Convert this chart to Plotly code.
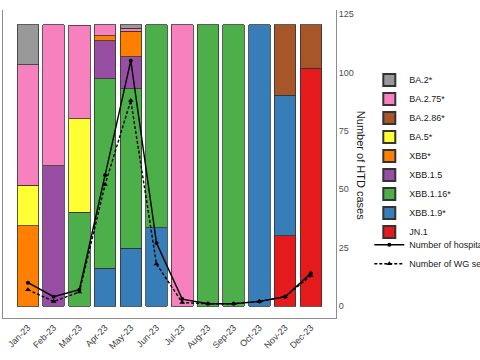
import plotly.graph_objects as go

months = ["Jan-23", "Feb-23", "Mar-23", "Apr-23", "May-23", "Jun-23",
          "Jul-23", "Aug-23", "Sep-23", "Oct-23", "Nov-23", "Dec-23"]

# Lineage shares per month (legend order = top of stack first)
lineages = ["BA.2*", "BA.2.75*", "BA.2.86*", "BA.5*", "XBB*",
            "XBB.1.5", "XBB.1.16*", "XBB.1.9*", "JN.1"]
ba2 =     [0.143, 0,    0,     0,     0.011, 0,     0, 0, 0, 0, 0,    0]
ba275 =   [0.429, 0.5,  0.333, 0.038, 0.011, 0,     1, 0, 0, 0, 0,    0]
ba286 =   [0,     0,    0,     0,     0,     0,     0, 0, 0, 0, 0.25, 0.154]
ba5 =     [0.143, 0,    0.333, 0,     0,     0,     0, 0, 0, 0, 0,    0]
xbb =     [0.286, 0,    0,     0.019, 0.091, 0,     0, 0, 0, 0, 0,    0]
xbb15 =   [0,     0.5,  0,     0.135, 0.114, 0,     0, 0, 0, 0, 0,    0]
xbb116 =  [0,     0,    0.333, 0.673, 0.568, 0.722, 0, 1, 1, 0, 0,    0]
xbb19 =   [0,     0,    0,     0.135, 0.205, 0.278, 0, 0, 0, 1, 0.5,  0]
jn1 =     [0,     0,    0,     0,     0,     0,     0, 0, 0, 0, 0.25, 0.846]
shares = [ba2, ba275, ba286, ba5, xbb, xbb15, xbb116, xbb19, jn1]
colors = ["#999999", "#F781BF", "#A65628", "#FFFF33", "#FF7F00",
          "#984EA3", "#4DAF4A", "#377EB8", "#E41A1C"]

hospitalizations = [10, 4, 7, 56, 105, 27, 3, 1, 1, 2, 4, 14]
wg_sequences = [7, 2, 6, 52, 88, 18, 1.5, 1, 1, 2, 4, 13]

right_ticks = [0, 25, 50, 75, 100, 125]

fig = go.Figure()
n = len(lineages)
# plotly stacks from the bottom, so add bottom lineage first
for i in reversed(range(n)):
    vals = [v if v else None for v in shares[i]]
    fig.add_trace(go.Bar(
        x=months, y=vals, name=lineages[i],
        marker=dict(color=colors[i], line=dict(color="#333333", width=0.8)),
        legend="legend", legendrank=i + 1,
    ))

fig.add_trace(go.Scatter(
    x=months, y=hospitalizations, name="Number of hospitalizations",
    mode="lines+markers", yaxis="y2",
    line=dict(color="black", width=1.4),
    marker=dict(symbol="circle", size=4, color="black"),
    legend="legend2", legendrank=1,
))
fig.add_trace(go.Scatter(
    x=months, y=wg_sequences, name="Number of WG sequences",
    mode="lines+markers", yaxis="y2",
    line=dict(color="black", width=1.4, dash="3px,2px"),
    marker=dict(symbol="triangle-up", size=5, color="black"),
    legend="legend2", legendrank=2,
))

font = "Liberation Sans, Arial, sans-serif"
fig.update_layout(
    width=480, height=360,
    margin=dict(l=3, r=144, t=10, b=42, autoexpand=False),
    paper_bgcolor="white", plot_bgcolor="white",
    barmode="stack", bargap=0.16,
    font=dict(family=font, size=9, color="#4d4d4d"),
    showlegend=True,
    xaxis=dict(
        type="category", range=[-0.97, 11.98],
        tickangle=-45, showgrid=False, zeroline=False,
        showline=True, linecolor="#8c8c8c", linewidth=1,
        ticks="", tickfont=dict(size=9, color="#3a3a3a"),
    ),
    yaxis=dict(
        range=[-5.1 / 120.3, 126.7 / 120.3],
        showticklabels=False, showgrid=False, zeroline=False,
        showline=True, linecolor="#8c8c8c", linewidth=1, ticks="",
    ),
    yaxis2=dict(
        overlaying="y", side="right",
        range=[-5.1, 126.7], tickvals=right_ticks,
        showgrid=False, zeroline=False,
        showline=True, linecolor="#8c8c8c", linewidth=1, ticks="",
        tickfont=dict(size=9, color="#4d4d4d"),
    ),
    legend=dict(
        x=1.1, xanchor="left", y=0.82, yanchor="top",
        traceorder="normal",
        font=dict(size=9, color="#1a1a1a"), bgcolor="rgba(0,0,0,0)",
        itemsizing="constant",
    ),
    legend2=dict(
        x=1.1, xanchor="left", y=0.285, yanchor="top",
        traceorder="normal",
        font=dict(size=9, color="#1a1a1a"), bgcolor="rgba(0,0,0,0)",
    ),
    annotations=[dict(
        text="Number of HTD cases", textangle=90,
        xref="paper", yref="paper", x=1.075, y=0.494,
        xanchor="center", yanchor="middle", showarrow=False,
        font=dict(size=11, color="#1a1a1a", family=font),
    )],
)

fig.write_html("out.html", config={"displayModeBar": False},
               post_script="document.body.style.margin='0';document.body.style.overflow='hidden';")
